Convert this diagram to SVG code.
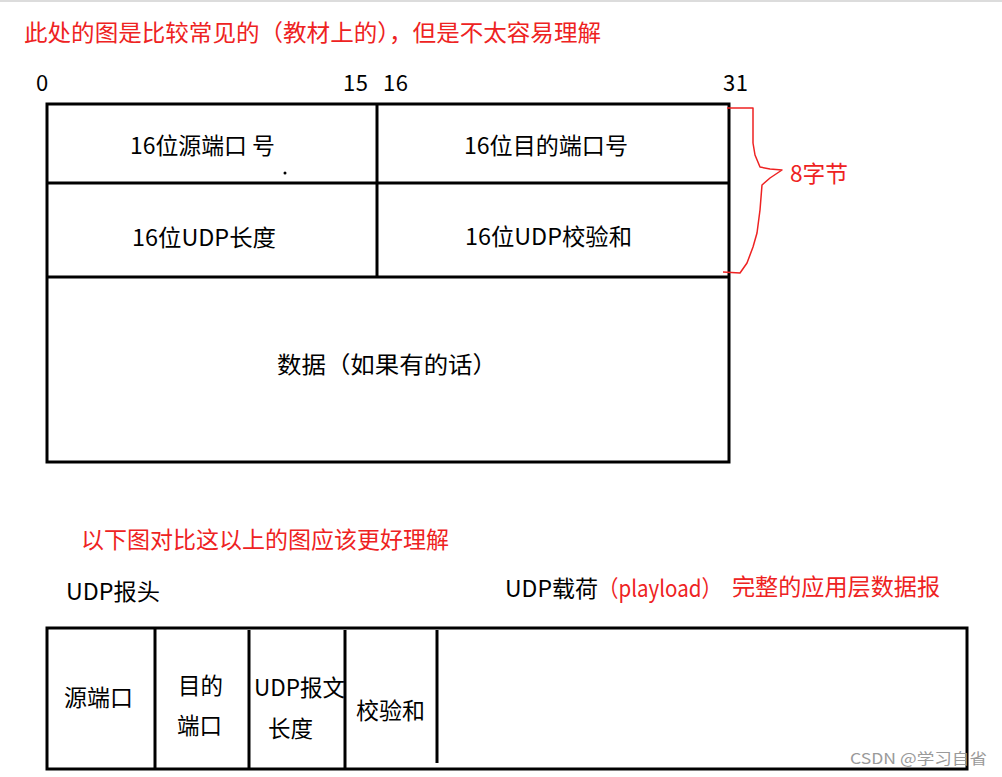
<svg xmlns="http://www.w3.org/2000/svg" width="1002" height="777" viewBox="0 0 1002 777">
<style>
text{font-family:"Noto Sans CJK SC","Noto Sans",sans-serif;fill:#000;font-size:23px}
.red{fill:#ee2222}
.box{fill:none;stroke:#000;stroke-width:3}
.ln{stroke:#000;stroke-width:3}
</style>
<rect x="0" y="0" width="1002" height="777" fill="#fff"/>
<rect x="0" y="0" width="1002" height="2" fill="#dcdcdc"/>
<text class="red" x="24" y="41" textLength="577" lengthAdjust="spacingAndGlyphs">此处的图是比较常见的（教材上的），但是不太容易理解</text>
<g id="bits" style="font-size:22px">
<text x="36" y="91" style="font-size:22px">0</text>
<text x="343" y="91" style="font-size:22px" textLength="25">15</text>
<text x="383" y="91" style="font-size:22px" textLength="25">16</text>
<text x="723" y="91" style="font-size:22px" textLength="25">31</text>
</g>
<g id="top-table">
<rect class="box" x="47" y="104" width="682" height="358"/>
<line class="ln" x1="47" y1="183" x2="729" y2="183"/>
<line class="ln" x1="47" y1="277" x2="729" y2="277"/>
<line class="ln" x1="377" y1="104" x2="377" y2="277"/>
</g>
<g id="n-src"><text x="130" y="154" textLength="145" lengthAdjust="spacingAndGlyphs">16位源端口 号</text><circle cx="285" cy="173" r="1.5" fill="#000"/></g>
<g id="n-dst"><text x="464" y="154" textLength="164" lengthAdjust="spacingAndGlyphs">16位目的端口号</text></g>
<g id="n-len"><text x="132" y="246" textLength="144" lengthAdjust="spacingAndGlyphs">16位UDP长度</text></g>
<g id="n-chk"><text x="465" y="245" textLength="167" lengthAdjust="spacingAndGlyphs">16位UDP校验和</text></g>
<g id="n-data"><text x="277" y="373" textLength="220" lengthAdjust="spacingAndGlyphs">数据（如果有的话）</text></g>
<g id="brace">
<path d="M727,108 L753,108 L753,143 L755,155 L760,167 L770,169 L782,170 L770,178 L762,185 L760,210 L757,233 L753,247 L747,263 L740,273 L723,272" fill="none" stroke="#ee2222" stroke-width="1.5" stroke-linejoin="round"/>
<text class="red" x="790" y="182" textLength="58" lengthAdjust="spacingAndGlyphs">8字节</text>
</g>
<text class="red" x="81" y="548" textLength="368" lengthAdjust="spacingAndGlyphs">以下图对比这以上的图应该更好理解</text>
<text x="66" y="600" textLength="94" lengthAdjust="spacingAndGlyphs">UDP报头</text>
<text x="505" y="597" textLength="93" lengthAdjust="spacingAndGlyphs">UDP载荷</text>
<text class="red" x="598" y="597" textLength="124" lengthAdjust="spacingAndGlyphs">（playload）</text>
<text class="red" x="732" y="595" textLength="208" lengthAdjust="spacingAndGlyphs">完整的应用层数据报</text>
<g id="bottom-table">
<rect class="box" x="47" y="628" width="920" height="141"/>
<line class="ln" x1="155" y1="628" x2="155" y2="769"/>
<line class="ln" x1="249" y1="630" x2="249" y2="769"/>
<line class="ln" x1="345" y1="630" x2="345" y2="769"/>
<line class="ln" x1="437" y1="630" x2="437" y2="763"/>
</g>
<g id="b-src"><text x="64" y="706" textLength="69" lengthAdjust="spacingAndGlyphs">源端口</text></g>
<g id="b-dst"><text x="178" y="694" textLength="45" lengthAdjust="spacingAndGlyphs">目的</text><text x="177" y="734" textLength="45" lengthAdjust="spacingAndGlyphs">端口</text></g>
<g id="b-len"><text x="254" y="696" textLength="91" lengthAdjust="spacingAndGlyphs">UDP报文</text><text x="268" y="737" textLength="45" lengthAdjust="spacingAndGlyphs">长度</text></g>
<g id="b-chk"><text x="356" y="719" textLength="69" lengthAdjust="spacingAndGlyphs">校验和</text></g>
<text x="850" y="764" style="font-size:15px;fill:#9a9a9a" textLength="137" lengthAdjust="spacingAndGlyphs">CSDN @学习自省</text>
</svg>
